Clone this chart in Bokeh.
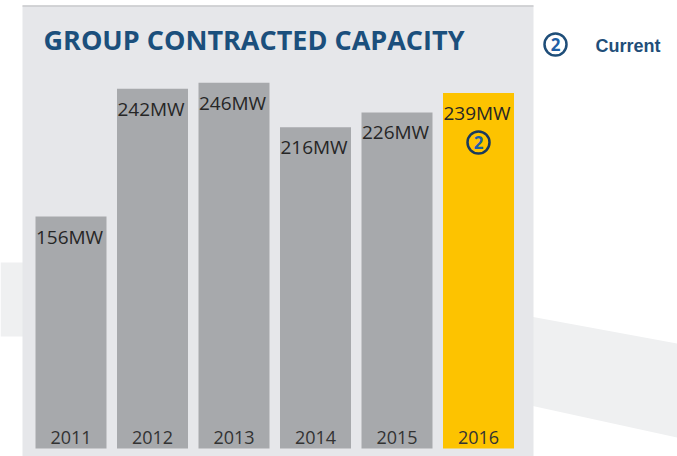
from bokeh.plotting import figure
from bokeh.models import Range1d, ColumnDataSource
from bokeh.core.properties import value
from bokeh.embed import file_html
from bokeh.resources import INLINE

# ---- data ----
years = ["2011", "2012", "2013", "2014", "2015", "2016"]
capacity_mw = [156, 242, 246, 216, 226, 239]
value_labels = ["156MW", "242MW", "246MW", "216MW", "226MW", "239MW"]
bar_colors = ["#a7a9ac", "#a7a9ac", "#a7a9ac", "#a7a9ac", "#a7a9ac", "#fdc300"]
current_index = 5
title_text = "GROUP CONTRACTED CAPACITY"
legend_text = "Current"

# ---- layout helpers (page pixel -> data) ----
W, H = 677, 456
PX_PER_X = 81.5
PX_PER_MW = 1.487
X0 = -70.5 / PX_PER_X
X1 = X0 + W / PX_PER_X
BASE = 448


def sx(px):
    return X0 + px / PX_PER_X


def sy(py):
    return (BASE - py) / PX_PER_MW


p = figure(width=W, height=H, output_backend="svg", toolbar_location=None,
           x_range=Range1d(X0, X1), y_range=Range1d(sy(H), sy(0)),
           x_axis_type=None, y_axis_type=None, min_border=0)
p.outline_line_color = None
p.background_fill_color = "white"
p.border_fill_color = "white"
p.grid.visible = False

# background swooshes
p.patch([sx(0), sx(24), sx(24), sx(0)], [sy(262), sy(262), sy(336), sy(336)],
        fill_color="#eff0f1", line_color=None)
p.patch([sx(530), sx(677), sx(677), sx(530)], [sy(316), sy(343), sy(437), sy(405)],
        fill_color="#eff0f1", line_color=None)

# panel
p.quad(left=sx(22), right=sx(533), bottom=sy(470), top=sy(5),
       fill_color="#e6e7ea", line_color=None)
p.segment(x0=[sx(22)], x1=[sx(533)], y0=[sy(5.5)], y1=[sy(5.5)],
          line_color="#c9cacc", line_width=1.5)

idx = list(range(len(years)))
bar_w = 71 / PX_PER_X
src = ColumnDataSource(dict(
    x=idx, top=capacity_mw, color=bar_colors, year=years, lab=value_labels,
    lx=[i - bar_w / 2 + 0.005 for i in idx],
    ly=[v - 20 / PX_PER_MW for v in capacity_mw],
    yy=[sy(437)] * len(years),
))
p.vbar(x="x", top="top", bottom=0, width=bar_w, fill_color="color",
       line_color=None, source=src)

p.text(x="lx", y="ly", text="lab", source=src, text_font=value("Open Sans"),
       text_font_size="19px", text_color="#262626", text_align="left",
       text_baseline="alphabetic")
p.text(x="x", y="yy", text="year", source=src, text_font=value("Open Sans"),
       text_font_size="18px", text_color="#333333", text_align="center",
       text_baseline="alphabetic")

# title
p.text(x=[sx(43)], y=[sy(39)], text=[title_text], text_font=value("Open Sans"),
       text_font_style="bold", text_font_size="27px", text_color="#1b4f7c",
       text_align="left", text_baseline="alphabetic")

# circled "2" in the current bar
cy = sy(142)
p.scatter(x=[idx[current_index]], y=[cy], marker="circle", size=22,
          fill_color=None, line_color="#1a3a5c", line_width=2.5)
p.text(x=[idx[current_index]], y=[cy], text=["2"], text_font=value("Open Sans"),
       text_font_style="bold", text_font_size="17px", text_color="#1f5fa5",
       text_align="center", text_baseline="middle")

# legend: circled 2 + Current
p.scatter(x=[sx(555)], y=[sy(44)], marker="circle", size=22,
          fill_color=None, line_color="#1f4e79", line_width=2.5)
p.text(x=[sx(555)], y=[sy(44)], text=["2"], text_font=value("Open Sans"),
       text_font_style="bold", text_font_size="17px", text_color="#1f5fa5",
       text_align="center", text_baseline="middle")
p.text(x=[sx(595)], y=[sy(45)], text=[legend_text],
       text_font=value("Liberation Sans"), text_font_style="bold",
       text_font_size="18px", text_color="#1f4e79", text_align="left",
       text_baseline="alphabetic")

open("out.html", "w").write(file_html(p, INLINE))
